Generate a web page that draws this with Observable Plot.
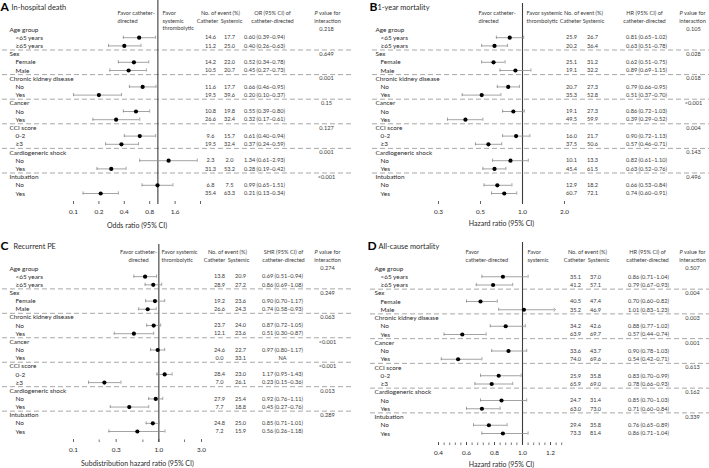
<!DOCTYPE html>
<html><head><meta charset="utf-8">
<script src="https://cdn.jsdelivr.net/npm/d3@7"></script>
<script src="https://cdn.jsdelivr.net/npm/@observablehq/plot@0.6"></script>
<style>
body{margin:0;background:#fff;}
#fig{position:relative;width:709px;height:468px;font-family:Lato,sans-serif;}
.panel{position:absolute;}
</style></head><body><div id="fig"></div>
<script>
// ---------- shared categories ----------
const groups = ["Age group","Sex","Chronic kidney disease","Cancer","CCI score","Cardiogeneric shock","Intubation"];
const subgroups = [["<65 years","≥65 years"],["Female","Male"],["No","Yes"],["No","Yes"],["0-2","≥3"],["No","Yes"],["No","Yes"]];

// ---------- Panel A: In-hospital death ----------
const A_cath = [14.6,11.2,14.2,10.5,11.6,19.5,10.8,26.6,9.6,19.5,2.3,31.3,6.8,35.4];
const A_sys  = [17.7,25.0,22.0,20.7,17.7,39.6,19.8,32.4,15.7,32.4,2.0,53.2,7.5,63.3];
const A_est  = [0.60,0.40,0.52,0.45,0.66,0.20,0.55,0.32,0.61,0.37,1.34,0.28,0.99,0.21];
const A_lo   = [0.39,0.26,0.34,0.27,0.46,0.10,0.39,0.17,0.40,0.24,0.61,0.19,0.65,0.13];
const A_hi   = [0.94,0.63,0.78,0.73,0.95,0.37,0.80,0.61,0.94,0.59,2.93,0.42,1.51,0.34];
const A_p    = ["0.218","0.649","0.001","0.15","0.127","0.001","<0.001"];
const A_ticks = [0.1,0.2,0.4,0.8,1.6,3.2];
const A_tickLabels = ["0.1","0.2","0.4","0.8","1.6",""];

// ---------- Panel B: 1-year mortality ----------
const B_cath = [25.9,20.2,25.1,19.1,20.7,35.3,19.1,49.5,16.0,37.5,10.1,45.4,12.9,60.7];
const B_sys  = [26.7,36.4,31.2,32.2,27.3,52.8,27.3,59.9,21.7,50.6,13.3,61.5,18.2,72.1];
const B_est  = [0.81,0.63,0.62,0.89,0.79,0.51,0.86,0.39,0.90,0.57,0.82,0.63,0.66,0.74];
const B_lo   = [0.65,0.51,0.51,0.69,0.66,0.37,0.72,0.29,0.72,0.46,0.61,0.52,0.53,0.60];
const B_hi   = [1.02,0.78,0.75,1.15,0.95,0.70,1.03,0.52,1.13,0.71,1.10,0.76,0.84,0.91];
const B_p    = ["0.105","0.028","0.018","<0.001","0.004","0.143","0.496"];
const B_ticks = [0.25,0.5,1,2];
const B_tickLabels = ["0.3","0.5","1.0","2.0"];

// ---------- Panel C: Recurrent PE ----------
const C_cath = [13.8,28.9,19.2,26.6,23.7,12.1,24.6,0.0,28.4,7.0,27.9,7.7,24.8,7.2];
const C_sys  = [20.9,27.2,23.6,24.3,24.0,23.6,22.7,33.1,23.0,26.1,25.4,18.8,25.0,15.9];
const C_est  = [0.69,0.86,0.90,0.74,0.87,0.51,0.97,null,1.17,0.23,0.92,0.45,0.85,0.56];
const C_lo   = [0.51,0.69,0.70,0.58,0.72,0.30,0.80,null,0.95,0.15,0.76,0.27,0.71,0.26];
const C_hi   = [0.94,1.08,1.17,0.93,1.05,0.87,1.17,null,1.43,0.36,1.11,0.76,1.01,1.18];
const C_p    = ["0.274","0.249","0.063","<0.001","<0.001","0.013","0.289"];
const C_ticks = [0.1,0.316,1,3.16];
const C_tickLabels = ["0.1","0.3","1.0","3.0"];
const C_minor = [0.2,0.65,2];

// ---------- Panel D: All-cause mortality ----------
const D_cath = [35.1,41.2,40.5,35.2,34.2,63.9,33.6,74.0,25.9,65.9,24.7,63.0,29.4,73.3];
const D_sys  = [37.0,57.1,47.4,46.9,42.6,69.7,43.7,69.6,35.8,69.0,31.4,73.0,35.8,81.4];
const D_est  = [0.86,0.79,0.70,1.01,0.88,0.57,0.90,0.54,0.83,0.78,0.85,0.71,0.76,0.86];
const D_lo   = [0.71,0.67,0.60,0.83,0.77,0.44,0.78,0.42,0.70,0.66,0.70,0.60,0.65,0.71];
const D_hi   = [1.04,0.93,0.82,1.23,1.02,0.74,1.03,0.71,0.99,0.93,1.03,0.84,0.89,1.04];
const D_p    = ["0.507","0.004","0.003","0.001","0.613","0.162","0.339"];
const D_ticks = [0.4,0.6,0.8,1.0,1.2];
const D_tickLabels = ["0.4","0.6","0.8","1.0","1.2"];
const D_minor = d3.range(0.4, 1.301, 0.04);

const panels = [
  {letter:"A", title:"In-hospital death", axisTitle:"Odds ratio (95% CI)", xType:"log", domain:[0.1,3.2],
   cath:A_cath, sys:A_sys, est:A_est, lo:A_lo, hi:A_hi, p:A_p, ticks:A_ticks, tickLabels:A_tickLabels, minor:[], arrows:[],
   headers:[
     {text:"Favor catheter-", x:117, row:-2, anchor:"start"},{text:"directed", x:117, row:-1, anchor:"start"},
     {text:"Favor", x:162, row:-2, anchor:"start"},{text:"systemic", x:162, row:-1, anchor:"start"},{text:"thrombolytic", x:162, row:-0.1, anchor:"start"},
     {text:"No. of event (%)", x:220, row:-2, anchor:"middle"},{text:"Catheter", x:207, row:-1, anchor:"middle"},{text:"Systemic", x:231, row:-1, anchor:"middle"},
     {text:"OR (95% CI) of", x:272, row:-2, anchor:"middle"},{text:"catheter-directed", x:272, row:-1, anchor:"middle"},
     {text:"P value for", x:327, row:-2, anchor:"middle"},{text:"interaction", x:327, row:-1, anchor:"middle"}],
   layout:{left:0, top:0, w:354, h:234, ml:73, mr:154, mt:0, mb:30, yRange:[29,193], labelHX:9, labelSX:15, sepX0:2,
     letterX:0, letterY:7, titleX:11, titleY:7, cathX:210, sysX:229, ciX:264, pX:326, atDy:21}},
  {letter:"B", title:"1-year mortality", axisTitle:"Hazard ratio (95% CI)", xType:"log", domain:[0.25,2],
   cath:B_cath, sys:B_sys, est:B_est, lo:B_lo, hi:B_hi, p:B_p, ticks:B_ticks, tickLabels:B_tickLabels, minor:[], arrows:[],
   headers:[
     {text:"Favor catheter-", x:124, row:-2, anchor:"start"},{text:"directed", x:124, row:-1, anchor:"start"},
     {text:"Favor systemic", x:172, row:-2, anchor:"start"},{text:"thrombolytic", x:172, row:-1, anchor:"start"},
     {text:"No. of event (%)", x:229, row:-2, anchor:"middle"},{text:"Catheter", x:216, row:-1, anchor:"middle"},{text:"Systemic", x:239, row:-1, anchor:"middle"},
     {text:"HR (95% CI) of", x:290, row:-2, anchor:"middle"},{text:"catheter-directed", x:290, row:-1, anchor:"middle"},
     {text:"P value for", x:338, row:-2, anchor:"middle"},{text:"interaction", x:338, row:-1, anchor:"middle"}],
   layout:{left:354, top:0, w:355, h:234, ml:84, mr:145, mt:3, mb:30, yRange:[29,193], labelHX:21, labelSX:26, sepX0:18,
     letterX:15, letterY:7, titleX:23, titleY:7, cathX:217, sysX:238, ciX:292, pX:339, atDy:19}},
  {letter:"C", title:"Recurrent PE", axisTitle:"Subdistribution hazard ratio (95% CI)", xType:"log", domain:[0.1,3.16],
   cath:C_cath, sys:C_sys, est:C_est, lo:C_lo, hi:C_hi, p:C_p, ticks:C_ticks, tickLabels:C_tickLabels, minor:C_minor, arrows:[],
   headers:[
     {text:"Favor catheter-", x:138, row:-2, anchor:"middle"},{text:"directed", x:138, row:-1, anchor:"middle"},
     {text:"Favor systemic", x:161, row:-2, anchor:"start"},{text:"thrombolytic", x:161, row:-1, anchor:"start"},
     {text:"No. of event (%)", x:227, row:-2, anchor:"middle"},{text:"Catheter", x:214, row:-1, anchor:"middle"},{text:"Systemic", x:238, row:-1, anchor:"middle"},
     {text:"SHR (95% CI) of", x:283, row:-2, anchor:"middle"},{text:"catheter-directed", x:283, row:-1, anchor:"middle"},
     {text:"P value for", x:327, row:-2, anchor:"middle"},{text:"interaction", x:327, row:-1, anchor:"middle"}],
   layout:{left:0, top:234, w:354, h:234, ml:73, mr:153, mt:10, mb:26, yRange:[34,197], labelHX:9, labelSX:15, sepX0:2,
     letterX:0, letterY:12, titleX:13, titleY:12, cathX:219, sysX:240, ciX:282, pX:327, atDy:21}},
  {letter:"D", title:"All-cause mortality", axisTitle:"Hazard ratio (95% CI)", xType:"linear", domain:[0.4,1.3],
   cath:D_cath, sys:D_sys, est:D_est, lo:D_lo, hi:D_hi, p:D_p, ticks:D_ticks, tickLabels:D_tickLabels, minor:D_minor, arrows:[3],
   headers:[
     {text:"Favor", x:111, row:-2, anchor:"start"},{text:"catheter-directed", x:111, row:-1, anchor:"start"},
     {text:"Favor", x:173, row:-2, anchor:"start"},{text:"systemic", x:173, row:-1, anchor:"start"},
     {text:"No. of event (%)", x:233, row:-2, anchor:"middle"},{text:"Catheter", x:220, row:-1, anchor:"middle"},{text:"Systemic", x:244, row:-1, anchor:"middle"},
     {text:"HR (95% CI) of", x:293, row:-2, anchor:"middle"},{text:"catheter-directed", x:293, row:-1, anchor:"middle"},
     {text:"P value for", x:338, row:-2, anchor:"middle"},{text:"interaction", x:338, row:-1, anchor:"middle"}],
   layout:{left:354, top:234, w:355, h:234, ml:84, mr:145, mt:8, mb:23, yRange:[34,199], labelHX:20, labelSX:26, sepX0:16,
     letterX:13, letterY:12, titleX:24, titleY:12, cathX:221, sysX:241, ciX:294, pX:338, atDy:19}}
];

const TXT = "#2a2a2a", TAB = "#3a3a3a", GRAY = "#8c8c8c", DARK = "#3c3c3c";
const FS_LABEL = 6.4, FS_TAB = 5.6, FS_AX = 6.4;

function drawPanel(c) {
  const L = c.layout;
  const rows = [];
  groups.forEach((g, gi) => {
    rows.push({i: gi*3, label: g, header: true, p: c.p[gi]});
    subgroups[gi].forEach((s, si) => {
      const k = gi*2 + si;
      rows.push({i: gi*3 + si + 1, label: s, header: false, est: c.est[k], lo: c.lo[k], hi: c.hi[k],
        cath: c.cath[k], sys: c.sys[k], arrow: c.arrows.includes(k)});
    });
  });
  const heads = rows.filter(r => r.header);
  const subs = rows.filter(r => !r.header);
  const withEst = subs.filter(r => r.est != null);
  const plain = withEst.filter(r => !r.arrow);
  const arrowed = withEst.filter(r => r.arrow);
  const seps = groups.slice(1).map((_, gi) => gi*3 + 2.5);
  const f2 = v => v.toFixed(2);
  const ciText = r => r.est == null ? "NA" : `${f2(r.est)} (${f2(r.lo)}–${f2(r.hi)})`;
  const frameH = L.h - L.mt - L.mb;
  const dx = x => x - L.ml;

  const marks = [
    Plot.ruleY(seps, {y: d => d, stroke: "#9e9e9e", strokeWidth: 0.9, strokeDasharray: "5,3",
      insetLeft: -(L.ml - L.sepX0), insetRight: -L.mr}),
    Plot.ruleX([1], {x: d => d, stroke: DARK, strokeWidth: 1.1}),
    Plot.ruleY(plain, {y: "i", x1: "lo", x2: "hi", stroke: GRAY, strokeWidth: 0.8}),
    Plot.ruleX(plain, {x: "lo", y1: "i", y2: "i", insetTop: -1.6, insetBottom: -1.6, stroke: GRAY, strokeWidth: 0.8}),
    Plot.ruleX(plain, {x: "hi", y1: "i", y2: "i", insetTop: -1.6, insetBottom: -1.6, stroke: GRAY, strokeWidth: 0.8}),
    Plot.ruleX(arrowed, {x: "lo", y1: "i", y2: "i", insetTop: -1.6, insetBottom: -1.6, stroke: GRAY, strokeWidth: 0.8}),
    Plot.link(arrowed, {x1: "lo", x2: "hi", y1: "i", y2: "i", stroke: GRAY, strokeWidth: 0.8, markerEnd: "arrow"}),
    Plot.dot(withEst, {x: "est", y: "i", r: 2.1, fill: "#000", stroke: null}),
    Plot.tickX(c.ticks, {x: d => d, insetTop: frameH - 3, stroke: DARK, strokeWidth: 0.8}),
    Plot.tickX(c.minor, {x: d => d, insetTop: frameH - 2.5, stroke: DARK, strokeWidth: 0.7}),
    Plot.axisX({ticks: c.ticks, tickFormat: d => c.tickLabels[c.ticks.indexOf(d)], tickSize: 0, tickPadding: 5,
      label: null, line: true, stroke: DARK, fill: TXT, fontSize: FS_AX}),
    Plot.text([c.axisTitle], {text: d => d, frameAnchor: "bottom", dy: L.atDy, fontSize: 7, fill: TXT, lineAnchor: "middle"}),
    // panel letter and title
    Plot.text([c.letter], {text: d => d, frameAnchor: "top-left", dx: dx(L.letterX), dy: L.letterY - L.mt,
      textAnchor: "start", lineAnchor: "middle", fontSize: 12, fontWeight: "bold", fill: "#000"}),
    Plot.text([c.title], {text: d => d, frameAnchor: "top-left", dx: dx(L.titleX), dy: L.titleY - L.mt,
      textAnchor: "start", lineAnchor: "middle", fontSize: 7.4, fill: TXT}),
    // row labels
    Plot.text(heads, {y: "i", text: "label", frameAnchor: "left", dx: dx(L.labelHX), textAnchor: "start", fontSize: FS_LABEL, fill: TXT}),
    Plot.text(subs, {y: "i", text: "label", frameAnchor: "left", dx: dx(L.labelSX), textAnchor: "start", fontSize: FS_LABEL, fill: TXT}),
    // table columns
    Plot.text(subs, {y: "i", text: r => r.cath.toFixed(1), frameAnchor: "left", dx: dx(L.cathX), textAnchor: "middle", fontSize: FS_TAB, fill: TAB}),
    Plot.text(subs, {y: "i", text: r => r.sys.toFixed(1), frameAnchor: "left", dx: dx(L.sysX), textAnchor: "middle", fontSize: FS_TAB, fill: TAB}),
    Plot.text(subs, {y: "i", text: ciText, frameAnchor: "left", dx: dx(L.ciX), textAnchor: "middle", fontSize: FS_TAB, fill: TAB}),
    Plot.text(heads, {y: "i", text: "p", frameAnchor: "left", dx: dx(L.pX), textAnchor: "middle", fontSize: FS_TAB, fill: TAB}),
    // column headers
    ...c.headers.map(h => Plot.text([h], {y: "row", text: "text", frameAnchor: "left", dx: dx(h.x),
      textAnchor: h.anchor, fontSize: FS_TAB, fill: TAB}))
  ];

  const svg = Plot.plot({
    width: L.w, height: L.h,
    marginLeft: L.ml, marginRight: L.mr, marginTop: L.mt, marginBottom: L.mb,
    x: {type: c.xType, domain: c.domain},
    y: {domain: [0, 20], range: L.yRange, axis: null},
    style: {fontFamily: "Lato, sans-serif", background: "transparent", overflow: "visible"},
    marks
  });
  d3.select(svg).selectAll("text").filter(function() { return this.textContent === "P value for"; })
    .each(function() {
      const t = d3.select(this); t.text("");
      t.append("tspan").attr("font-style", "italic").text("P");
      t.append("tspan").text(" value for");
    });
  const div = document.createElement("div");
  div.className = "panel";
  div.style.left = L.left + "px"; div.style.top = L.top + "px";
  div.appendChild(svg);
  document.getElementById("fig").appendChild(div);
}
panels.forEach(drawPanel);
</script>
</body></html>
